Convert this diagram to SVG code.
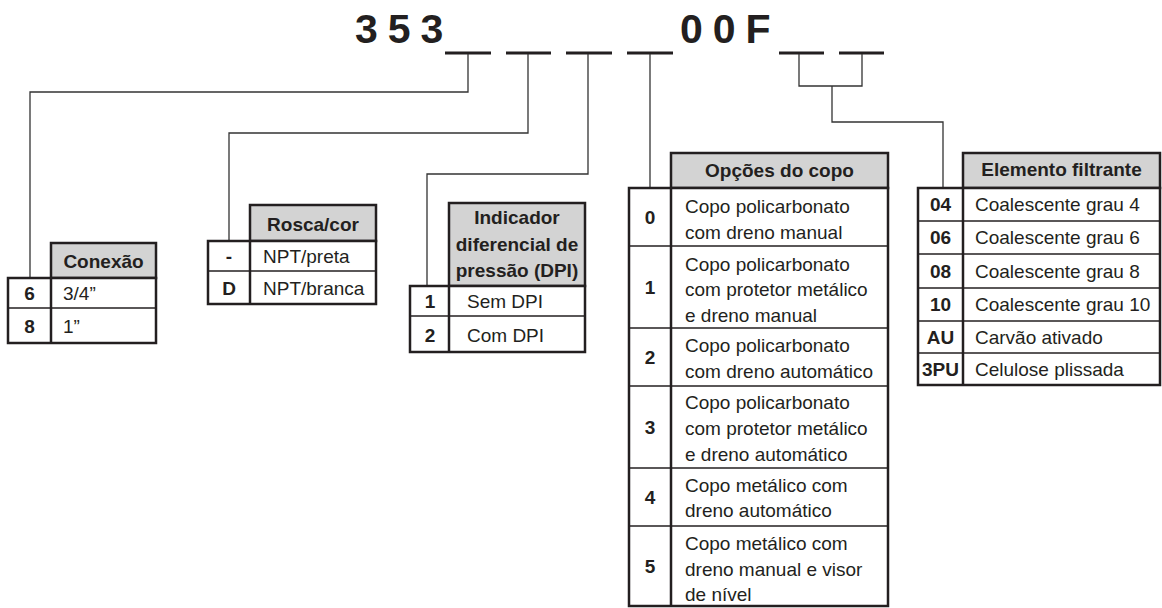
<svg xmlns="http://www.w3.org/2000/svg" width="1162" height="608" viewBox="0 0 1162 608">
<style>
text{font-family:"Liberation Sans",Arial,sans-serif;fill:#231f20}
.title{font-size:41px;font-weight:bold;letter-spacing:10px}
.h{font-size:19px;font-weight:bold;text-anchor:middle}
.c{font-size:19px;font-weight:bold;text-anchor:middle}
.t{font-size:19px}
.hdr{fill:#d3d3d3;stroke:#231f20;stroke-width:2.5}
.body{fill:#fff;stroke:#231f20;stroke-width:2.5}
.div{stroke:#231f20;stroke-width:2.5}
.row{stroke:#231f20;stroke-width:1.3}
.bar{stroke:#231f20;stroke-width:3}
.con{fill:none;stroke:#333;stroke-width:1.3}
</style>
<rect width="1162" height="608" fill="#fff"/>
<g id="title">
<text class="title" x="355" y="43">353</text>
<text class="title" x="680" y="43">00F</text>
<line class="bar" x1="445" y1="53" x2="491" y2="53"/>
<line class="bar" x1="506" y1="53" x2="551" y2="53"/>
<line class="bar" x1="566" y1="53" x2="612" y2="53"/>
<line class="bar" x1="627" y1="53" x2="673" y2="53"/>
<line class="bar" x1="779" y1="53" x2="824" y2="53"/>
<line class="bar" x1="839" y1="53" x2="884" y2="53"/>
</g>
<g id="connectors">
<polyline class="con" points="468,54 468,92 30,92 30,278"/>
<polyline class="con" points="528,54 528,133 229,133 229,241"/>
<polyline class="con" points="588,54 588,174 427,174 427,286"/>
<polyline class="con" points="650,54 650,188"/>
<polyline class="con" points="799,54 799,86 862,86 862,54"/>
<polyline class="con" points="832,86 832,122 943,122 943,188"/>
</g>
<g id="conexao">
<rect class="hdr" x="51" y="243" width="105" height="35"/>
<rect class="body" x="8" y="278" width="148" height="65"/>
<line class="div" x1="51" y1="278" x2="51" y2="343"/>
<line class="row" x1="8" y1="308" x2="156" y2="308"/>
<text class="h" x="103.5" y="268">Conexão</text>
<text class="c" x="29.5" y="300">6</text>
<text class="t" x="63" y="300">3/4”</text>
<text class="c" x="29.5" y="333">8</text>
<text class="t" x="63" y="333">1”</text>
</g>
<g id="rosca">
<rect class="hdr" x="250" y="205" width="126" height="36"/>
<rect class="body" x="208" y="241" width="168" height="63"/>
<line class="div" x1="250" y1="241" x2="250" y2="304"/>
<line class="row" x1="208" y1="271" x2="376" y2="271"/>
<text class="h" x="313" y="231">Rosca/cor</text>
<text class="c" x="229" y="263">-</text>
<text class="t" x="263" y="263">NPT/preta</text>
<text class="c" x="229" y="295">D</text>
<text class="t" x="263" y="295">NPT/branca</text>
</g>
<g id="dpi">
<rect class="hdr" x="449" y="203" width="136" height="83"/>
<rect class="body" x="410" y="286" width="175" height="66"/>
<line class="div" x1="449" y1="286" x2="449" y2="352"/>
<line class="row" x1="410" y1="316" x2="585" y2="316"/>
<text class="h" x="517" y="224">Indicador</text>
<text class="h" x="517" y="251">diferencial de</text>
<text class="h" x="517" y="277">pressão (DPI)</text>
<text class="c" x="430" y="308">1</text>
<text class="t" x="467" y="308">Sem DPI</text>
<text class="c" x="430" y="342">2</text>
<text class="t" x="467" y="342">Com DPI</text>
</g>
<g id="opcoes">
<rect class="hdr" x="671" y="153" width="217" height="35"/>
<rect class="body" x="629" y="188" width="259" height="418"/>
<line class="div" x1="671" y1="188" x2="671" y2="606"/>
<line class="row" x1="629" y1="246" x2="888" y2="246"/>
<line class="row" x1="629" y1="328" x2="888" y2="328"/>
<line class="row" x1="629" y1="386" x2="888" y2="386"/>
<line class="row" x1="629" y1="468" x2="888" y2="468"/>
<line class="row" x1="629" y1="526" x2="888" y2="526"/>
<text class="h" x="779.5" y="177">Opções do copo</text>
<text class="c" x="650" y="224">0</text>
<text class="t" x="685" y="213">Copo policarbonato</text>
<text class="t" x="685" y="239">com dreno manual</text>
<text class="c" x="650" y="294">1</text>
<text class="t" x="685" y="271">Copo policarbonato</text>
<text class="t" x="685" y="296">com protetor metálico</text>
<text class="t" x="685" y="322">e dreno manual</text>
<text class="c" x="650" y="364">2</text>
<text class="t" x="685" y="352">Copo policarbonato</text>
<text class="t" x="685" y="378">com dreno automático</text>
<text class="c" x="650" y="434">3</text>
<text class="t" x="685" y="409">Copo policarbonato</text>
<text class="t" x="685" y="435">com protetor metálico</text>
<text class="t" x="685" y="461">e dreno automático</text>
<text class="c" x="650" y="504">4</text>
<text class="t" x="685" y="492">Copo metálico com</text>
<text class="t" x="685" y="517">dreno automático</text>
<text class="c" x="650" y="573">5</text>
<text class="t" x="685" y="550">Copo metálico com</text>
<text class="t" x="685" y="576">dreno manual e visor</text>
<text class="t" x="685" y="601">de nível</text>
</g>
<g id="elemento">
<rect class="hdr" x="963" y="153" width="197" height="35"/>
<rect class="body" x="918" y="188" width="242" height="197"/>
<line class="div" x1="963" y1="188" x2="963" y2="385"/>
<line class="row" x1="918" y1="221" x2="1160" y2="221"/>
<line class="row" x1="918" y1="254" x2="1160" y2="254"/>
<line class="row" x1="918" y1="288" x2="1160" y2="288"/>
<line class="row" x1="918" y1="321" x2="1160" y2="321"/>
<line class="row" x1="918" y1="353" x2="1160" y2="353"/>
<text class="h" x="1061.5" y="176">Elemento filtrante</text>
<text class="c" x="940.5" y="211">04</text>
<text class="t" x="975" y="211">Coalescente grau 4</text>
<text class="c" x="940.5" y="244">06</text>
<text class="t" x="975" y="244">Coalescente grau 6</text>
<text class="c" x="940.5" y="278">08</text>
<text class="t" x="975" y="278">Coalescente grau 8</text>
<text class="c" x="940.5" y="311">10</text>
<text class="t" x="975" y="311">Coalescente grau 10</text>
<text class="c" x="940.5" y="344">AU</text>
<text class="t" x="975" y="344">Carvão ativado</text>
<text class="c" x="940.5" y="376">3PU</text>
<text class="t" x="975" y="376">Celulose plissada</text>
</g>
</svg>
